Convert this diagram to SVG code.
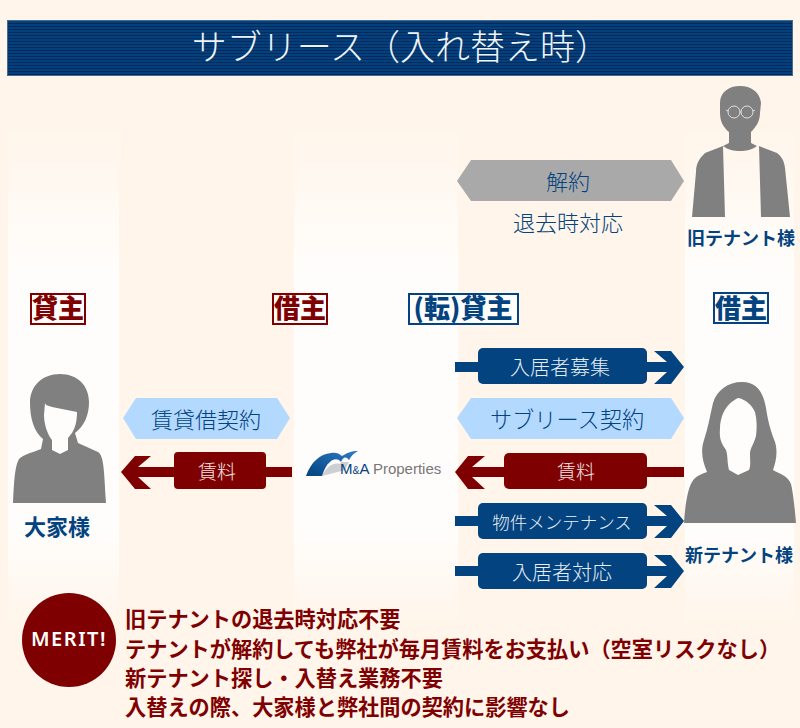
<svg xmlns="http://www.w3.org/2000/svg" width="800" height="728" viewBox="0 0 800 728">
<style>
text{font-family:"Noto Sans CJK JP","Noto Sans",sans-serif;text-anchor:middle}
.lt{font-weight:300}
.blue{fill:#03437f}
.red{fill:#7f0000}
.box{fill:#03437f}
.rbox{fill:#7f0000}
.wt{fill:#e6edf4;font-weight:300}
.tag{fill:#fffdfb;stroke-width:2}
.b{font-weight:700}
.k{font-weight:900}
.hex{fill:#b3d9ff}
.sil{fill:#808080}
.ml{text-anchor:start;font-size:21.2px;font-weight:700;fill:#7f0000}
</style>
<defs>
<pattern id="st" width="3" height="3" patternUnits="userSpaceOnUse" y="20"><rect width="3" height="3" fill="#04407c"/><rect width="3" height="1" fill="#022a5c"/></pattern>
<linearGradient id="col" x1="0" y1="0" x2="0" y2="1"><stop offset="0" stop-color="#fffdfb" stop-opacity="0"/><stop offset=".3" stop-color="#fffdfb"/><stop offset=".8" stop-color="#fffdfb"/><stop offset="1" stop-color="#fffdfb" stop-opacity="0"/></linearGradient>
<linearGradient id="sw" x1="0" y1="1" x2="1" y2="0"><stop offset="0" stop-color="#03437f"/><stop offset="1" stop-color="#2d7ac6"/></linearGradient>
</defs>
<rect width="800" height="728" fill="#fff5ea"/>
<g id="columns">
<rect x="8" y="120" width="111" height="510" fill="url(#col)"/>
<rect x="294" y="120" width="164" height="510" fill="url(#col)"/>
<rect x="685" y="120" width="109" height="510" fill="url(#col)"/>
</g>
<g id="header"><rect x="7.5" y="20.5" width="785" height="55" fill="url(#st)" stroke="#4a6a8c"/><text x="401" y="60" font-size="35" class="wt" style="fill:#eef3f8">サブリース（入れ替え時）</text></g>
<g id="connectors">
<path class="box" d="M455 362h23v10h-23z"/>
<path class="box" d="M647 362h20l-13-11h17l13 16-13 17h-17l13-12h-20z"/>
<path class="box" d="M455 516h23v10h-23zM647 516h20l-13-11h17l13 16-13 17h-17l13-12h-20z"/>
<path class="box" d="M455 566h23v10h-23zM647 566h20l-13-11h17l13 16-13 17h-17l13-12h-20z"/>
<path class="rbox" d="M684 467h-37v10h37zM504 467h-32l13-11h-17l-13 16 13 17h17l-13-12h32z"/>
<path class="rbox" d="M292 467h-26v10h26zM174 467h-36l13-11h-16l-14 16 14 17h16l-13-12h36z"/>
</g>
<g id="kaiyaku"><polygon points="457,181 471,160 671,160 684,181 671,201 471,201" fill="#a9a9a9"/><text x="568" y="190" font-size="22" class="blue lt">解約</text></g>
<g id="taikyo"><text x="568" y="231" font-size="22" class="blue lt">退去時対応</text></g>
<g id="old-tenant">
<path class="sil" d="M740 86C751 86 760 92 761 103L760 113C760 122 755 128 751 132L751 143L757 146C752 150 746 151 740 151C734 151 728 150 723 146L729 143L729 132C724 128 720 122 720 113L720 103C720 92 729 86 740 86Z"/>
<path class="sil" d="M723 146L725 217H692L696 172C696 163 700 158 705 153Z"/>
<path class="sil" d="M759 146L761 217H790L785 168C784 160 781 156 777 153Z"/>
<g fill="none" stroke="#e2e2e2" stroke-width="1"><circle cx="734" cy="112" r="6"/><circle cx="747" cy="112" r="6"/><path d="M740 112h1M728 111l-2-1M753 111l2-1"/></g>
<text x="741" y="245" font-size="18" class="blue b">旧テナント様</text>
</g>
<g id="landlord-tag"><rect class="tag" x="31" y="294" width="54" height="30" stroke="#7f0000"/><text x="58" y="318" font-size="26" class="red k">貸主</text></g>
<g id="lessee-tag"><rect class="tag" x="273" y="294" width="54" height="30" stroke="#7f0000"/><text x="300" y="318" font-size="26" class="red k">借主</text></g>
<g id="sublessor-tag"><rect class="tag" x="409" y="294" width="109" height="30" stroke="#03437f"/><text x="463" y="318" font-size="26" class="blue k">(転)貸主</text></g>
<g id="tenant-tag"><rect class="tag" x="714" y="293" width="54" height="30" stroke="#03437f"/><text x="741" y="318" font-size="26" class="blue k">借主</text></g>
<g id="landlord">
<path class="sil" d="M60 374C78 374 89 386 89 402C89 416 84 426 75 433L78 443L98 452C104 456 104 470 106 503H13C14 480 15 466 19 459C24 454 34 452 41 449L43 439C34 432 30 418 30 403C30 386 42 374 60 374Z"/>
<path fill="#fffdfb" d="M45 403L46 405L52 407L77 412C77 422 75 428 72 433L68 438V450L60 454L52 450V440C48 435 44 425 44 415Z"/>
<text x="57" y="535" font-size="22" class="blue b">大家様</text>
</g>
<g id="rent-left"><rect x="174" y="452" width="92" height="37" rx="4" class="rbox"/><text x="217" y="479" font-size="19" class="wt" style="fill:#f0e4e4">賃料</text></g>
<g id="lease-contract"><polygon points="123,418 136,398 277,398 290,418 277,439 136,439" class="hex"/><text x="206" y="428" font-size="22" class="blue lt">賃貸借契約</text></g>
<g id="logo">
<path fill="#9aa3ad" d="M322 476C326 468 332 462 340 464L341 462L349 462L345 470Z" opacity=".5"/>
<path fill="url(#sw)" d="M306 476C311 462 320 454 331 453C335 452 339 453 342 456C347 453 351 451 358 451C354 453 351 456 349 460C346 456 343 457 341 462C338 458 333 459 330 462C326 465 324 470 322 476Z"/>
<text x="340" y="474" font-size="15" style="text-anchor:start;font-family:'Liberation Sans',sans-serif"><tspan fill="#03437f">M</tspan><tspan fill="#03437f" font-size="10.5">&amp;</tspan><tspan fill="#03437f">A </tspan><tspan fill="#777">Properties</tspan></text>
</g>
<g id="recruit"><rect x="478" y="348" width="169" height="36" rx="5" class="box"/><text x="560" y="375" font-size="20" class="wt">入居者募集</text></g>
<g id="sublease"><polygon points="457,418 471,398 671,398 684,418 671,439 471,439" class="hex"/><text x="567" y="428" font-size="22.2" class="blue lt">サブリース契約</text></g>
<g id="rent-right"><rect x="504" y="453" width="143" height="36" rx="5" class="rbox"/><text x="576" y="479" font-size="19" class="wt" style="fill:#f0e4e4">賃料</text></g>
<g id="maintenance"><rect x="478" y="503" width="169" height="36" rx="5" class="box"/><text x="562" y="529" font-size="17.5" class="wt">物件メンテナンス</text></g>
<g id="response"><rect x="478" y="553" width="169" height="36" rx="5" class="box"/><text x="562" y="580" font-size="20" class="wt">入居者対応</text></g>
<g id="new-tenant">
<path class="sil" d="M742 382C757 382 763 392 766 408C768 422 771 432 775 442C778 452 776 462 773 470C780 474 788 476 791 484C793 492 795 510 796 523H684C685 505 688 488 692 482C695 476 702 474 707 472C703 462 700 452 704 440C708 428 710 416 713 403C717 390 728 382 742 382Z"/>
<path fill="#fffdfb" d="M738 398C745 399 752 405 755 412C757 420 757 428 756 436C754 444 750 448 750 454C750 460 751 466 749 470L738 475L729 470C727 462 728 456 726 450C722 444 719 440 720 428C721 410 730 402 738 398Z"/>
<text x="739" y="562" font-size="18" class="blue b">新テナント様</text>
</g>
<g id="merit">
<circle cx="69" cy="640" r="47" class="rbox"/>
<text x="69" y="646" font-size="20" font-weight="600" letter-spacing="1.5" fill="#fff" style="font-family:'Noto Sans',sans-serif">MERIT!</text>
<text x="125" y="627" class="ml">旧テナントの退去時対応不要</text>
<text x="125" y="657" class="ml">テナントが解約しても弊社が毎月賃料をお支払い（空室リスクなし）</text>
<text x="125" y="686" class="ml">新テナント探し・入替え業務不要</text>
<text x="125" y="715" class="ml">入替えの際、大家様と弊社間の契約に影響なし</text>
</g>
</svg>
